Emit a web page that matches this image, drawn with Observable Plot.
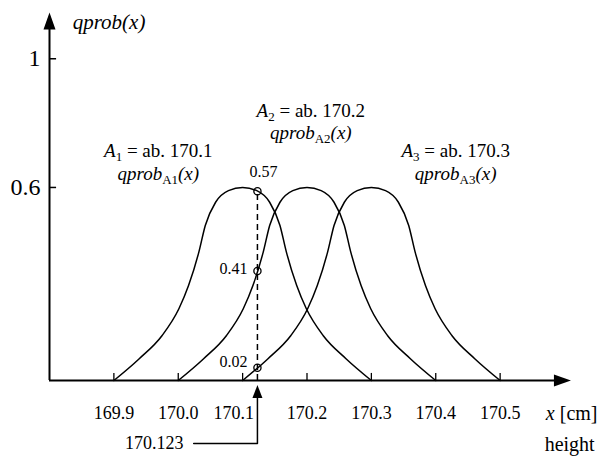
<!DOCTYPE html>
<html>
<head>
<meta charset="utf-8">
<script src="https://cdn.jsdelivr.net/npm/d3@7"></script>
<script src="https://cdn.jsdelivr.net/npm/@observablehq/plot@0.6"></script>
<style>
  html, body { margin: 0; padding: 0; background: #fff; }
  #chart { width: 607px; height: 460px; }
  #chart svg, #chart svg text, #chart svg tspan { font-family: "Liberation Serif", "Times New Roman", serif !important; }
</style>
</head>
<body>
<div id="chart"></div>
<script>
// ---- data ----
const xTicks = [169.9, 170.0, 170.1, 170.2, 170.3, 170.4, 170.5];
const yTicks = [0.6, 1];

const setNames   = ["A1", "A2", "A3"];
const setCenters = [170.1, 170.2, 170.3];

// common membership-function shape (offset from centre in cm, degree)
const shapeOffset = [-0.2, -0.161, -0.125, -0.099, -0.084, -0.068, -0.058, -0.042, -0.022, 0,
                     0.022, 0.042, 0.058, 0.068, 0.084, 0.099, 0.125, 0.161, 0.2];
const shapeValue  = [0, 0.067, 0.14, 0.223, 0.295, 0.399, 0.482, 0.554, 0.59, 0.6,
                     0.59, 0.554, 0.482, 0.399, 0.295, 0.223, 0.14, 0.067, 0];

const measured = 170.123;
const markerLabels = ["0.57", "0.41", "0.02"];

const labelTitles = ["*A*_{1} = ab. 170.1", "*A*_{2} = ab. 170.2", "*A*_{3} = ab. 170.3"];
const labelFuncs  = ["*qprob*_{A1}*(x)*", "*qprob*_{A2}*(x)*", "*qprob*_{A3}*(x)*"];
const labelX      = [169.969, 170.206, 170.431];
const labelY1     = [0.714, 0.838, 0.714];
const labelY2     = [0.643, 0.768, 0.643];

// ---- derived tables ----
const curves = [];
setNames.forEach((s, k) => shapeOffset.forEach((o, i) =>
  curves.push({set: s, x: setCenters[k] + o, y: shapeValue[i]})));

const shape = d3.scaleLinear().domain(shapeOffset).range(shapeValue).clamp(true);
const markers = setNames.map((s, k) => ({
  x: measured, y: shape(measured - setCenters[k]), label: markerLabels[k], k
}));
const topMarker = d3.max(markers, d => d.y);

const annTitles = setNames.map((s, k) => ({x: labelX[k], y: labelY1[k], t: labelTitles[k]}));
const annFuncs  = setNames.map((s, k) => ({x: labelX[k], y: labelY2[k], t: labelFuncs[k]}));

const xMin = 169.8, xMax = 170.61, yMax = 1.144;

const arrowUp    = {draw(c) { c.moveTo(0, 0); c.lineTo(6, 17); c.lineTo(-6, 17); c.closePath(); }};
const arrowRight = {draw(c) { c.moveTo(0, 0); c.lineTo(-17, 6); c.lineTo(-17, -6); c.closePath(); }};
const arrowSmall = {draw(c) { c.moveTo(0, 0); c.lineTo(5, 13); c.lineTo(-5, 13); c.closePath(); }};

const calloutY = -0.196;
const FONT = "Liberation Serif";
const fmt1 = d => d.toFixed(1);

const chart = Plot.plot({
  width: 607,
  height: 460,
  marginLeft: 49,
  marginRight: 43,
  marginTop: 10,
  marginBottom: 80,
  x: {domain: [169.8, 170.6]},
  y: {domain: [0, 1.15]},
  style: {background: "#fff", color: "#000"},
  marks: [
    // axes lines and arrowheads
    Plot.ruleY([0], {x1: xMin, x2: xMax - 0.01, stroke: "#000", strokeWidth: 2}),
    Plot.ruleX([xMin], {y1: 0, y2: yMax - 0.03, stroke: "#000", strokeWidth: 2}),
    Plot.dot([{x: xMin, y: yMax}], {x: "x", y: "y", symbol: arrowUp, fill: "#000", stroke: null, r: 6}),
    Plot.dot([{x: xMax, y: 0}], {x: "x", y: "y", symbol: arrowRight, fill: "#000", stroke: null, r: 6}),
    // ticks
    Plot.ruleX(xTicks, {x: d => d, y1: 0, y2: 0.022, stroke: "#000", strokeWidth: 1.3}),
    Plot.ruleY(yTicks, {y: d => d, x1: xMin, x2: xMin + 0.011, stroke: "#000", strokeWidth: 1.5}),
    Plot.axisX({ticks: xTicks.filter(d => d !== 170.1), tickSize: 0, tickPadding: 26, fontSize: 18, label: null,
                fontFamily: FONT, tickFormat: fmt1}),
    // the 170.1 label steps aside for the 170.123 arrow
    Plot.axisX({ticks: [170.1], tickSize: 0, tickPadding: 26, fontSize: 18, label: null, dx: -9,
                fontFamily: FONT, tickFormat: fmt1}),
    Plot.axisY({ticks: yTicks, tickSize: 0, tickPadding: 9, fontSize: 24, label: null, fontFamily: FONT,
                tickFormat: d => String(d)}),
    // membership curves
    Plot.line(curves, {x: "x", y: "y", z: "set", curve: "monotone-x", stroke: "#000", strokeWidth: 1.5}),
    // measured value
    Plot.ruleX([measured], {x: d => d, y1: 0, y2: topMarker, stroke: "#000", strokeWidth: 1.5, strokeDasharray: "6,4"}),
    Plot.dot(markers, {x: "x", y: "y", r: 3.6, stroke: "#000", strokeWidth: 1.3, fill: "none"}),
    Plot.text(markers.filter(d => d.k === 0), {x: "x", y: "y", text: "label", dy: -19, dx: 6, fontSize: 16, fontFamily: FONT}),
    Plot.text(markers.filter(d => d.k === 1), {x: "x", y: "y", text: "label", dx: -10, dy: -2, textAnchor: "end", fontSize: 16, fontFamily: FONT}),
    Plot.text(markers.filter(d => d.k === 2), {x: "x", y: "y", text: "label", dx: -10, dy: -6, textAnchor: "end", fontSize: 16, fontFamily: FONT}),
    // callout
    Plot.line([{x: 170.024, y: calloutY}, {x: measured, y: calloutY}, {x: measured, y: -0.03}],
              {x: "x", y: "y", stroke: "#000", strokeWidth: 1.5}),
    Plot.dot([{x: measured, y: -0.014}], {x: "x", y: "y", symbol: arrowSmall, fill: "#000", stroke: null, r: 5}),
    Plot.text([{x: 170.008, y: calloutY, t: String(measured)}], {x: "x", y: "y", text: "t", textAnchor: "end", fontSize: 18, fontFamily: FONT}),
    // set annotations
    Plot.text(annTitles, {x: "x", y: "y", text: "t", fontSize: 19, fontFamily: FONT}),
    Plot.text(annFuncs,  {x: "x", y: "y", text: "t", fontSize: 19, fontFamily: FONT}),
    // axis titles
    Plot.text([{x: 169.836, y: 1.113, t: "*qprob(x)*"}], {x: "x", y: "y", text: "t", textAnchor: "start", fontSize: 21, fontFamily: FONT}),
    Plot.text([{x: 170.571, y: -0.103, t: "*x* [cm]"}], {x: "x", y: "y", text: "t", textAnchor: "start", fontSize: 20, fontFamily: FONT}),
    Plot.text([{x: 170.608, y: -0.199, t: "height"}], {x: "x", y: "y", text: "t", fontSize: 20, fontFamily: FONT})
  ]
});

document.getElementById("chart").appendChild(chart);

// rich text: *italic*, _{subscript}
d3.select(chart).selectAll("text").each(function () {
  const el = this;
  if (el.querySelector("tspan")) return;
  const s = el.textContent;
  if (!/[*]|_\{/.test(s)) return;
  const fs = parseFloat(getComputedStyle(el).fontSize) || 16;
  const shift = Math.round(fs * 0.2);
  el.textContent = "";
  const re = /\*([^*]+)\*|_\{([^}]+)\}|([^*_]+)/g;
  let m, lowered = false;
  while ((m = re.exec(s))) {
    const t = document.createElementNS("http://www.w3.org/2000/svg", "tspan");
    if (m[1] !== undefined) { t.textContent = m[1]; t.setAttribute("font-style", "italic"); }
    else if (m[2] !== undefined) { t.textContent = m[2]; t.setAttribute("font-size", Math.round(fs * 0.66)); }
    else { t.textContent = m[3]; }
    if (m[2] !== undefined && !lowered) { t.setAttribute("dy", shift); lowered = true; }
    else if (m[2] === undefined && lowered) { t.setAttribute("dy", -shift); lowered = false; }
    el.appendChild(t);
  }
});
</script>
</body>
</html>
